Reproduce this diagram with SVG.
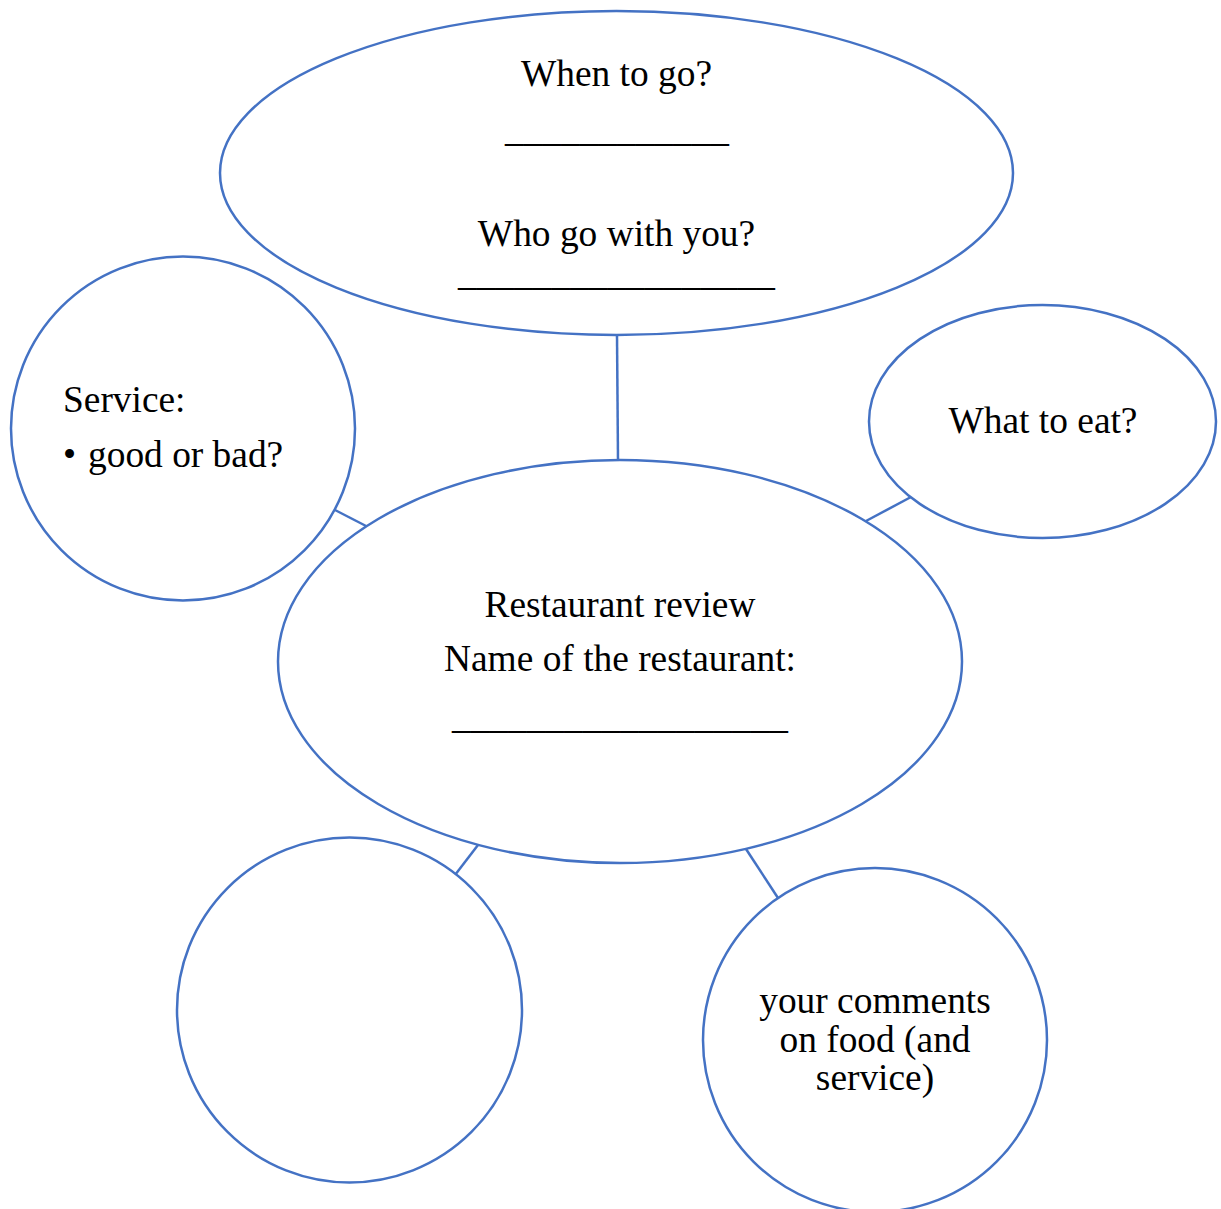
<svg xmlns="http://www.w3.org/2000/svg" width="1221" height="1209" viewBox="0 0 1221 1209">
<style>
.n{fill:#fff;stroke:#4472C4;stroke-width:2.5}
.c{stroke:#4472C4;stroke-width:2.5;fill:none}
text{font-family:"Liberation Serif","Times New Roman",serif;font-size:37.4px;fill:#000}
.m{text-anchor:middle}
</style>
<rect width="1221" height="1209" fill="#fff"/>
<g id="connectors">
<line class="c" x1="617" y1="335" x2="618" y2="461"/>
<line class="c" x1="335" y1="510" x2="368" y2="527"/>
<line class="c" x1="866" y1="521" x2="911" y2="497"/>
<line class="c" x1="455" y1="875" x2="478" y2="845"/>
<line class="c" x1="746" y1="849" x2="778" y2="898"/>
</g>
<g id="top">
<ellipse class="n" cx="616.5" cy="173" rx="396.5" ry="162"/>
<text class="m" x="616.5" y="86">When to go?</text>
<text x="505" y="141" textLength="224" lengthAdjust="spacingAndGlyphs">____________</text>
<text class="m" x="616.5" y="246">Who go with you?</text>
<text x="458" y="285" textLength="317" lengthAdjust="spacingAndGlyphs">_________________</text>
</g>
<g id="service">
<circle class="n" cx="183" cy="428.5" r="172"/>
<text x="63" y="412">Service:</text>
<text x="63" y="467">•</text>
<text x="88" y="467">good or bad?</text>
</g>
<g id="whattoeat">
<ellipse class="n" cx="1042.5" cy="421.5" rx="173.5" ry="116.5"/>
<text class="m" x="1043" y="433">What to eat?</text>
</g>
<g id="center">
<ellipse class="n" cx="620" cy="661.5" rx="342" ry="201.5"/>
<text class="m" x="620" y="617">Restaurant review</text>
<text class="m" x="620" y="671">Name of the restaurant:</text>
<text x="452" y="728" textLength="336" lengthAdjust="spacingAndGlyphs">__________________</text>
</g>
<g id="empty">
<circle class="n" cx="349.5" cy="1010" r="172.5"/>
</g>
<g id="comments">
<circle class="n" cx="875" cy="1040" r="172"/>
<text class="m" x="875" y="1013">your comments</text>
<text class="m" x="875" y="1052">on food (and</text>
<text class="m" x="875" y="1090">service)</text>
</g>
</svg>
